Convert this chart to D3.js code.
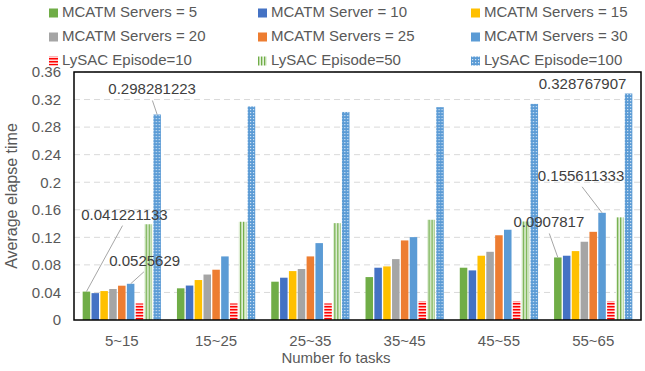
<!DOCTYPE html>
<html>
<head>
  <script src="https://d3js.org/d3.v7.min.js"></script>
  <style>
    body { margin: 0; background: #fff; }
    text { font-family: "Liberation Sans", Arial, sans-serif; }
  </style>
</head>
<body>
  <div id="chart"></div>
  <script>
    // categories and series
    var categories = ["5~15", "15~25", "25~35", "35~45", "45~55", "55~65"];
    var seriesNames = ["MCATM Servers = 5", "MCATM Server = 10", "MCATM Servers = 15",
                       "MCATM Servers = 20", "MCATM Servers = 25", "MCATM Servers = 30",
                       "LySAC Episode=10", "LySAC Episode=50", "LySAC Episode=100"];

    var servers5  = [0.041221133, 0.046, 0.0556, 0.0623, 0.0759, 0.0907817];
    var servers10 = [0.039, 0.050, 0.0614, 0.0759, 0.072, 0.0933];
    var servers15 = [0.042, 0.058, 0.071, 0.0778, 0.0933, 0.100];
    var servers20 = [0.045, 0.066, 0.074, 0.0884, 0.099, 0.1136];
    var servers25 = [0.0498, 0.073, 0.0923, 0.1155, 0.123, 0.128];
    var servers30 = [0.0525629, 0.0923, 0.1116, 0.1203, 0.131, 0.155611333];
    var episode10  = [0.024, 0.024, 0.024, 0.027, 0.027, 0.027];
    var episode50  = [0.139, 0.1426, 0.1406, 0.1455, 0.143, 0.149];
    var episode100 = [0.298281223, 0.31, 0.302, 0.309, 0.3137, 0.328767907];

    var yTicks = [0, 0.04, 0.08, 0.12, 0.16, 0.2, 0.24, 0.28, 0.32, 0.36];

    var allSeries = [servers5, servers10, servers15, servers20, servers25, servers30,
                     episode10, episode50, episode100];

    // which bars carry a data label: [category index, series index]
    var labelled = [[0, 0], [0, 5], [0, 8], [5, 0], [5, 5], [5, 8]];
    // label offsets (layout only) relative to bar top
    var labelOffsets = [[38, -76], [14, -22], [-5, -24], [-9, -34], [-21, -36], [-46, -8]];

    var fills = ["#70AD47", "#4472C4", "#FFC000", "#A5A5A5", "#ED7D31", "#5B9BD5",
                 "url(#pRed)", "url(#pGreen)", "url(#pBlue)"];

    var W = 645, H = 371;
    var margin = { top: 72, right: 4, bottom: 51, left: 74 };

    var svg = d3.select("#chart").append("svg")
                .attr("width", W)
                .attr("height", H);

    // patterns
    var defs = svg.append("defs");
    var pr = defs.append("pattern").attr("id", "pRed")
                 .attr("patternUnits", "userSpaceOnUse").attr("width", 4).attr("height", 3);
    pr.append("rect").attr("width", 4).attr("height", 3).attr("fill", "#ffd6d6");
    pr.append("rect").attr("width", 4).attr("height", 1.5).attr("fill", "#ff0000");

    var pg = defs.append("pattern").attr("id", "pGreen")
                 .attr("patternUnits", "userSpaceOnUse").attr("width", 3).attr("height", 4);
    pg.append("rect").attr("width", 3).attr("height", 4).attr("fill", "#e4f1dc");
    pg.append("rect").attr("width", 1.3).attr("height", 4).attr("fill", "#70AD47");

    var pb = defs.append("pattern").attr("id", "pBlue")
                 .attr("patternUnits", "userSpaceOnUse").attr("width", 3).attr("height", 3);
    pb.append("rect").attr("width", 3).attr("height", 3).attr("fill", "#5B9BD5");
    pb.append("rect").attr("x", 1).attr("y", 1).attr("width", 1.2).attr("height", 1.2).attr("fill", "#d4e5f5");

    var x0 = d3.scaleBand()
               .domain(categories)
               .range([margin.left, W - margin.right])
               .paddingInner(0.17)
               .paddingOuter(0.092);

    var x1 = d3.scaleBand()
               .domain(d3.range(seriesNames.length))
               .range([0, x0.bandwidth()])
               .paddingInner(0.15);

    var y = d3.scaleLinear()
              .domain([0, 0.36])
              .range([H - margin.bottom, margin.top]);

    // dashed gridlines
    svg.append("g")
       .selectAll("line")
       .data(yTicks.filter(d => d > 0))
       .enter().append("line")
       .attr("x1", margin.left).attr("x2", W - margin.right)
       .attr("y1", d => y(d)).attr("y2", d => y(d))
       .attr("stroke", "#d9d9d9")
       .attr("stroke-width", 1)
       .attr("stroke-dasharray", "6,4");

    // bars
    var groups = svg.append("g")
       .selectAll("g")
       .data(categories)
       .enter().append("g")
       .attr("transform", d => `translate(${x0(d)},0)`);

    groups.selectAll("rect")
       .data((c, ci) => allSeries.map((s, si) => ({ si: si, v: s[ci] })))
       .enter().append("rect")
       .attr("x", d => x1(d.si))
       .attr("width", x1.bandwidth())
       .attr("y", d => y(d.v))
       .attr("height", d => y(0) - y(d.v))
       .attr("fill", d => fills[d.si]);

    // y axis
    var yAxis = svg.append("g")
       .attr("transform", `translate(${margin.left},0)`)
       .call(d3.axisLeft(y).tickValues(yTicks).tickSize(0).tickPadding(13)
               .tickFormat(d => d3.format("")(+d.toFixed(2))));
    yAxis.select(".domain").remove();
    yAxis.selectAll("text").attr("font-size", 15).attr("fill", "#595959")
         .style("font-family", "Liberation Sans, Arial, sans-serif");

    // x axis
    var xAxis = svg.append("g")
       .attr("transform", `translate(0,${y(0)})`)
       .call(d3.axisBottom(x0).tickSize(0).tickPadding(15));
    xAxis.select(".domain").remove();
    xAxis.selectAll("text").attr("font-size", 15).attr("fill", "#595959")
         .style("font-family", "Liberation Sans, Arial, sans-serif");

    // plot frame
    svg.append("rect")
       .attr("x", margin.left).attr("y", margin.top)
       .attr("width", W - margin.right - margin.left)
       .attr("height", y(0) - margin.top)
       .attr("fill", "none")
       .attr("stroke", "#000")
       .attr("stroke-width", 1.5);

    // axis titles
    svg.append("text")
       .attr("transform", `translate(13,${(margin.top + y(0)) / 2}) rotate(-90)`)
       .attr("text-anchor", "middle")
       .attr("dominant-baseline", "middle")
       .attr("font-size", 16)
       .attr("fill", "#595959")
       .text("Average elapse time");

    svg.append("text")
       .attr("x", 336)
       .attr("y", 363)
       .attr("text-anchor", "middle")
       .attr("font-size", 15)
       .attr("fill", "#595959")
       .text("Number fo tasks");

    // data labels with leader lines
    labelled.forEach(function(p, i) {
      var ci = p[0], si = p[1];
      var v = allSeries[si][ci];
      var bx = x0(categories[ci]) + x1(si) + x1.bandwidth() / 2;
      var by = y(v);
      var lx = bx + labelOffsets[i][0];
      var ly = by + labelOffsets[i][1];
      if (Math.abs(labelOffsets[i][1]) > 15) {
        svg.append("line")
           .attr("x1", lx + (bx - lx) * 0.05).attr("y1", ly + 10)
           .attr("x2", bx).attr("y2", by)
           .attr("stroke", "#a6a6a6")
           .attr("stroke-width", 1);
      }
      svg.append("text")
         .attr("x", lx).attr("y", ly)
         .attr("text-anchor", "middle")
         .attr("dominant-baseline", "middle")
         .attr("font-size", 15)
         .attr("fill", "#404040")
         .text(String(v));
    });

    // legend
    var legendCols = [49, 258, 471];
    var legendRows = [13, 37, 61];
    var legend = svg.append("g")
       .selectAll("g")
       .data(seriesNames)
       .enter().append("g")
       .attr("transform", (d, i) => `translate(${legendCols[i % 3]},${legendRows[Math.floor(i / 3)]})`);
    legend.append("rect")
       .attr("x", 0).attr("y", -4.5)
       .attr("width", 9).attr("height", 9)
       .attr("fill", (d, i) => fills[i]);
    legend.append("text")
       .attr("x", 13)
       .attr("dominant-baseline", "middle")
       .attr("font-size", 15)
       .attr("fill", "#595959")
       .text(d => d);
  </script>
</body>
</html>
